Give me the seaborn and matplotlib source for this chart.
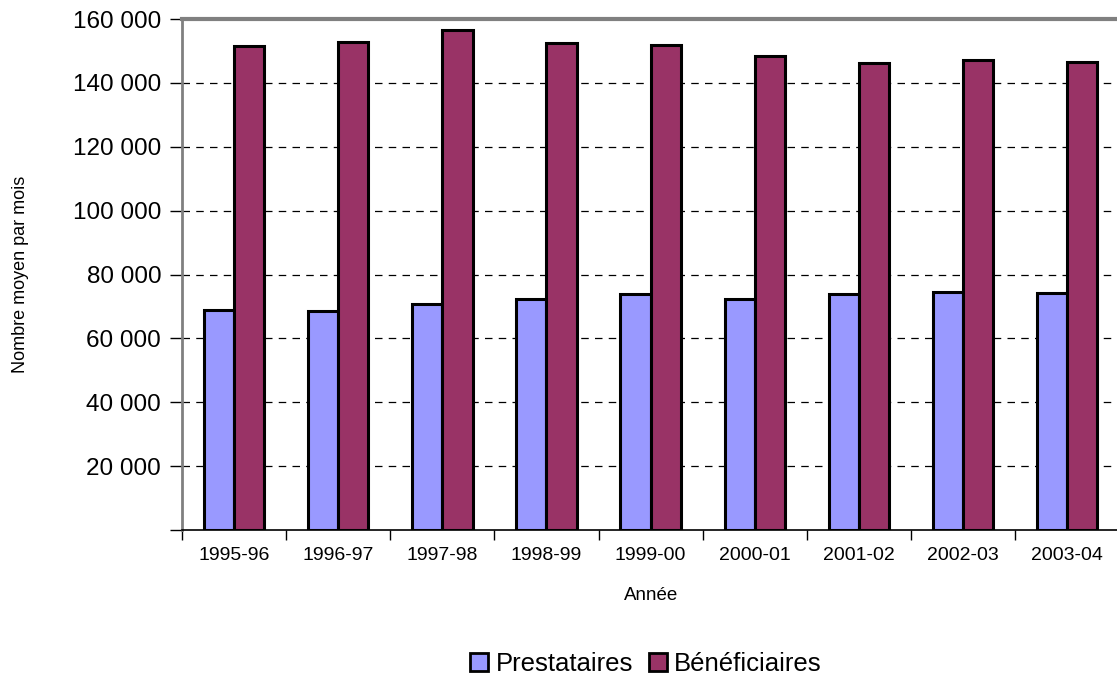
import matplotlib
matplotlib.use("Agg")
import matplotlib.pyplot as plt
import seaborn as sns
import pandas as pd
from matplotlib.ticker import FuncFormatter, FixedLocator
from matplotlib.patches import Patch

annees = ["1995-96", "1996-97", "1997-98", "1998-99", "1999-00",
          "2000-01", "2001-02", "2002-03", "2003-04"]
prestataires = [68900, 68600, 70700, 72300, 73900, 72300, 73900, 74400, 74200]
beneficiaires = [151500, 152700, 156500, 152600, 151900, 148300, 146200, 147300, 146500]
series = ["Prestataires", "Bénéficiaires"]
couleurs = ["#9999FF", "#993366"]

df = pd.DataFrame({
    "Année": annees * 2,
    "Valeur": prestataires + beneficiaires,
    "Série": [series[0]] * len(annees) + [series[1]] * len(annees),
})

sns.set_style("white")
plt.rcParams["font.family"] = ["Liberation Sans", "DejaVu Sans"]
plt.rcParams["text.color"] = "black"
plt.rcParams["axes.labelcolor"] = "black"
plt.rcParams["xtick.color"] = "black"
plt.rcParams["ytick.color"] = "black"

fig = plt.figure(figsize=(11.17, 6.8), dpi=100)
ax = fig.add_axes([182 / 1117, 1 - 530 / 680, 1 - 182 / 1117 + 0.002, (530 - 19) / 680])

sns.barplot(data=df, x="Année", y="Valeur", hue="Série", palette=couleurs,
            width=0.58, edgecolor="black", linewidth=2.2, saturation=1,
            ax=ax, legend=False)

ax.set_ylim(0, 160000)
ax.set_xlim(-0.5, len(annees) - 0.5)
ax.yaxis.set_major_locator(FixedLocator(range(0, 160001, 20000)))
ax.yaxis.set_major_formatter(FuncFormatter(
    lambda v, p: "" if v == 0 else f"{int(v):,}".replace(",", " ")))
ax.tick_params(axis="y", labelsize=17.5, length=9, width=1, colors="black",
               direction="out", left=True, pad=6)
ax.tick_params(axis="x", which="major", labelsize=14, length=0, pad=12, colors="black")
ax.set_xticks([i + 0.5 for i in range(-1, len(annees))], minor=True)
ax.tick_params(axis="x", which="minor", length=7, width=1, color="black",
               direction="out", bottom=True)

for y in range(20000, 160000, 20000):
    ax.axhline(y, color="black", linestyle=(0, (6, 5)), linewidth=0.9, zorder=0)

ax.spines["left"].set_color("#808080")
ax.spines["left"].set_linewidth(2)
ax.spines["top"].set_color("#808080")
ax.spines["top"].set_linewidth(3)
ax.spines["bottom"].set_color("black")
ax.spines["bottom"].set_linewidth(1.2)
ax.spines["right"].set_visible(False)

ax.set_xlabel("Année", fontsize=13.5, labelpad=17, color="black")
ax.set_ylabel("Nombre moyen par mois", fontsize=13, color="black")
ax.yaxis.set_label_coords(-153 / 935, 0.5)

handles = [Patch(facecolor=c, edgecolor="black", linewidth=2) for c in couleurs]
fig.legend(handles, series, loc="center", bbox_to_anchor=(646 / 1117, 1 - 664 / 680),
           ncol=2, frameon=False, fontsize=18.5, handlelength=0.7, handleheight=0.7,
           handletextpad=0.3, columnspacing=0.6)

fig.savefig("out.png", dpi=100)
